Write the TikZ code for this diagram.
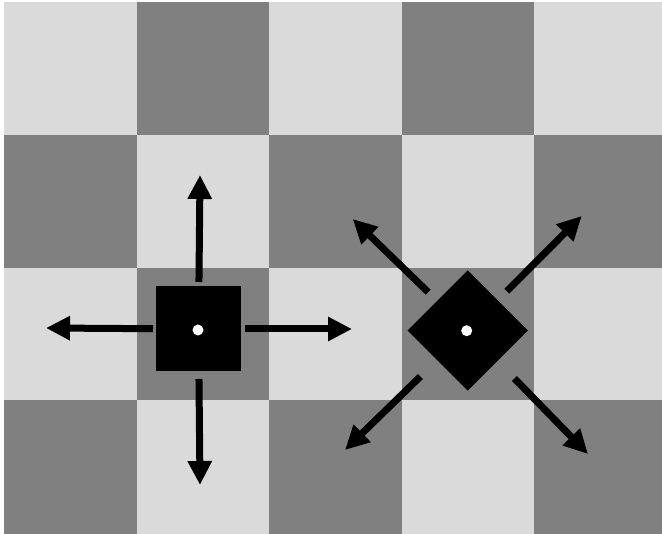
\documentclass[tikz,border=0pt]{standalone}
\usetikzlibrary{arrows.meta}
\definecolor{lightsq}{RGB}{218,218,218}
\definecolor{darksq}{RGB}{128,128,128}
\tikzset{
  piece/.style={fill=black, draw=none, minimum size=85pt, inner sep=0pt},
  hole/.style={circle, fill=white, draw=none, minimum size=11pt, inner sep=0pt},
  move/.style={line width=7pt, -{Triangle[length=24pt,width=23pt]}},
}
\begin{document}
\begin{tikzpicture}[x=1pt,y=-1pt]
  \useasboundingbox (0,0) rectangle (662,534);
  \fill[white] (0,0) rectangle (662,534);
  % checkerboard, 5 columns by 4 rows (last row and column run to the edge)
  \begin{scope}
    \clip (0,0) rectangle (662,534);
    \foreach \i in {0,...,4} {
      \foreach \j in {0,...,3} {
        \pgfmathtruncatemacro{\sqparity}{mod(\i+\j,2)}
        \pgfmathsetmacro{\ybot}{\j==3 ? 536 : 2+132.8*(\j+1)}
        \ifnum\sqparity=0
          \fill[lightsq] ({4+132.5*\i},{2+132.8*\j}) rectangle ({4+132.5*(\i+1)},\ybot);
        \else
          \fill[darksq] ({4+132.5*\i},{2+132.8*\j}) rectangle ({4+132.5*(\i+1)},\ybot);
        \fi
      }
    }
  \end{scope}
  % rook-like piece: square with four orthogonal moves
  \node[piece] (sq) at (198.5,329) {};
  \node[hole] (sqdot) at (198,330) {};
  \coordinate (sqN) at (200,175);
  \coordinate (sqE) at (352,329);
  \coordinate (sqS) at (200,485);
  \coordinate (sqW) at (46,328);
  \draw[move, shorten <=47pt] (sq.center) -- (sqN);
  \draw[move, shorten <=46.5pt] (sq.center) -- (sqE);
  \draw[move, shorten <=50pt] (sq.center) -- (sqS);
  \draw[move, shorten <=45.5pt] (sq.center) -- (sqW);
  % bishop-like piece: diamond with four diagonal moves
  \node[piece, rotate=45] (dm) at (467.7,330.5) {};
  \node[hole] (dmdot) at (466.7,330.7) {};
  \coordinate (dmNE) at (581.7,216);
  \coordinate (dmNW) at (352.7,219);
  \coordinate (dmSW) at (345,450);
  \coordinate (dmSE) at (588,454);
  \draw[move, shorten <=55pt] (dm.center) -- (dmNW);
  \draw[move, shorten <=55.5pt] (dm.center) -- (dmNE);
  \draw[move, shorten <=66pt] (dm.center) -- (dmSW);
  \draw[move, shorten <=67pt] (dm.center) -- (dmSE);
\end{tikzpicture}
\end{document}
